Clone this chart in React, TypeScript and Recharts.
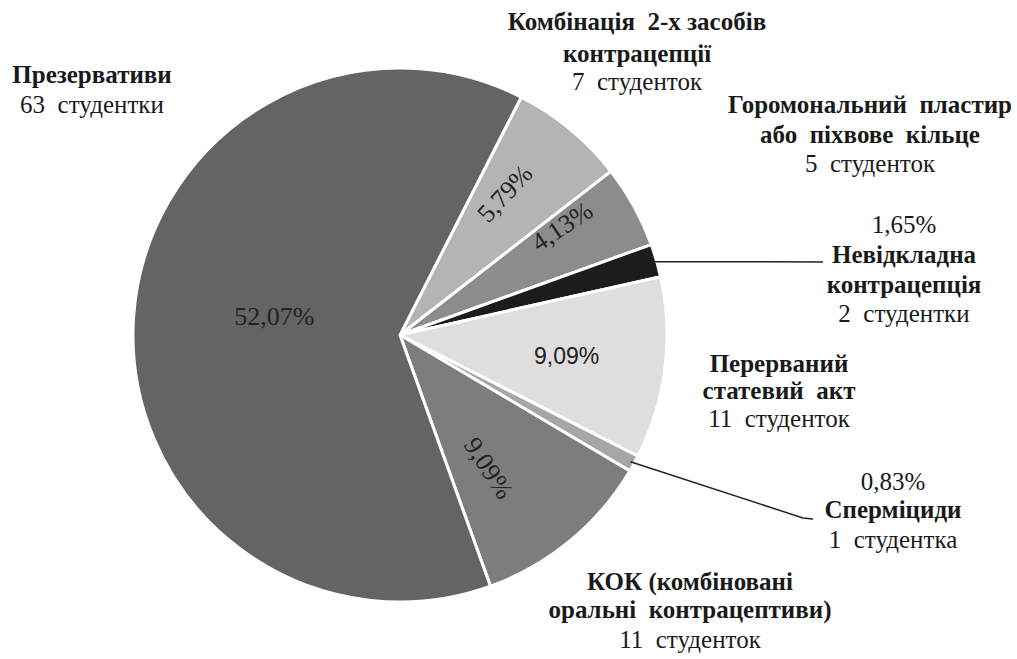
import { PieChart, Pie, Cell } from 'recharts'

// slices in drawing order, clockwise from the top-right
const names = [
  ['Комбінація  2-х засобів', 'контрацепції'],
  ['Горомональний  пластир', 'або  піхвове  кільце'],
  ['Невідкладна', 'контрацепція'],
  ['Перерваний', 'статевий  акт'],
  ['Сперміциди'],
  ['КОК (комбіновані', 'оральні  контрацептиви)'],
  ['Презервативи'],
]
const counts = [7, 5, 2, 11, 1, 11, 63]
const percents = [5.79, 4.13, 1.65, 9.09, 0.83, 9.09, 52.07]
const studentWord = ['студенток', 'студенток', 'студентки', 'студенток', 'студентка', 'студенток', 'студентки']

const COLORS = ['#b4b4b4', '#8c8c8c', '#1c1c1c', '#dedede', '#a6a6a6', '#7d7d7d', '#646464']

const SERIF = '"Liberation Serif", "Times New Roman", serif'
const SANS = '"Liberation Sans", Arial, sans-serif'
const FS = 25
const RADIAN = Math.PI / 180

// percent text inside the slice: radius, angle shift, rotation
const INNER: Array<{ r: number; shift: number; rot: number; sans?: boolean } | null> = [
  { r: 176, shift: 3, rot: -47 },
  { r: 195, shift: 5, rot: -34 },
  null,
  { r: 168, shift: 0, rot: 0, sans: true },
  null,
  { r: 160, shift: -6, rot: 57 },
  { r: 127, shift: -5, rot: 0 },
]

// outside labels: centre x and line baselines; pct = percent shown above the name
const OUTER = [
  { x: 637, ys: [30, 62, 90] },
  { x: 870, ys: [113, 143, 172] },
  { x: 904, ys: [233, 263, 293, 322], pct: true },
  { x: 779, ys: [372, 399, 427] },
  { x: 893, ys: [490, 518, 548], pct: true },
  { x: 690, ys: [590, 618, 648] },
  { x: 92, ys: [83, 113] },
]

const LEADERS: Record<number, number[][]> = {
  2: [[823, 262]],
  4: [[803, 518], [813, 519]],
}

const rows = names.map((n, i) => ({ name: n.join(' '), value: counts[i] }))

const fmt = (v: number) => v.toFixed(2).replace('.', ',') + '%'

function renderLabel(props: any) {
  const { cx, cy, midAngle, outerRadius, index } = props
  const inner = INNER[index]
  const outer = OUTER[index]
  const lines: Array<{ text: string; bold: boolean }> = []
  if (outer.pct) lines.push({ text: fmt(percents[index]), bold: false })
  names[index].forEach((t) => lines.push({ text: t, bold: true }))
  lines.push({ text: `${counts[index]}  ${studentWord[index]}`, bold: false })

  let innerEl = null
  if (inner) {
    const a = (midAngle + inner.shift) * RADIAN
    const x = cx + inner.r * Math.cos(-a)
    const y = cy + inner.r * Math.sin(-a)
    innerEl = (
      <text
        x={x}
        y={y}
        textAnchor="middle"
        dominantBaseline="central"
        fontFamily={inner.sans ? SANS : SERIF}
        fontSize={inner.sans ? 23 : 26}
        fill="#222"
        transform={inner.rot ? `rotate(${inner.rot} ${x} ${y})` : undefined}
      >
        {fmt(percents[index])}
      </text>
    )
  }

  let leader = null
  if (LEADERS[index]) {
    const sx = cx + (outerRadius - 4) * Math.cos(-midAngle * RADIAN)
    const sy = cy + (outerRadius - 4) * Math.sin(-midAngle * RADIAN)
    const pts = [[sx, sy], ...LEADERS[index]].map((p) => p.join(',')).join(' ')
    leader = <polyline points={pts} fill="none" stroke="#222" strokeWidth={1.5} />
  }

  return (
    <g key={`lbl-${index}`}>
      {innerEl}
      {leader}
      {lines.map((l, k) => (
        <text
          key={k}
          x={outer.x}
          y={outer.ys[k]}
          textAnchor="middle"
          fontFamily={SERIF}
          fontSize={FS}
          fontWeight={l.bold ? 700 : 400}
          fill="#1a1a1a"
          style={{ whiteSpace: 'pre' }}
        >
          {l.text}
        </text>
      ))}
    </g>
  )
}

export default function App() {
  return (
    <div style={{ position: 'absolute', left: 0, top: 0, width: 1017, height: 659, background: '#fff' }}>
      <PieChart width={1017} height={659}>
        <Pie
          data={rows}
          dataKey="value"
          cx={395}
          cy={330}
          outerRadius={267}
          startAngle={63}
          endAngle={-297}
          stroke="#fff"
          strokeWidth={3}
          label={renderLabel}
          labelLine={false}
          isAnimationActive={false}
        >
          {rows.map((_, i) => (
            <Cell key={i} fill={COLORS[i]} />
          ))}
        </Pie>
      </PieChart>
    </div>
  )
}
